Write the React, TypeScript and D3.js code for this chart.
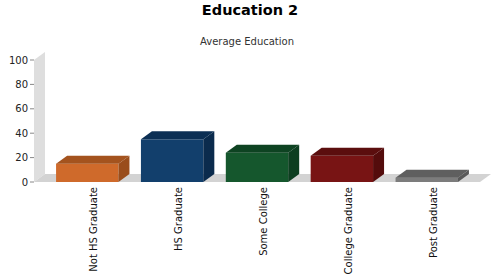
import React from "react";
import * as d3 from "d3";

const categories = ["Not HS Graduate", "HS Graduate", "Some College", "College Graduate", "Post Graduate"];
const values = [15, 35, 24, 21.5, 3.5];
const yTicks = [0, 20, 40, 60, 80, 100];
const frontColors = ["#cf6a2b", "#123f6c", "#15572d", "#781414", "#7c7c7c"];
const topColors = ["#a4531e", "#0c2f54", "#0e4322", "#5b0e0e", "#5f5f5f"];
const sideColors = ["#9a4d1b", "#0b2b4d", "#0d3e20", "#540c0c", "#595959"];

const W = 500;
const H = 280;
const DX = 11;
const DY = 8;
const FONT = "'DejaVu Sans', sans-serif";

export default function App() {
  const x = d3.scaleBand<string>().domain(categories).range([34, 480]).paddingInner(0.265).paddingOuter(0.26);
  const y = d3.scaleLinear().domain([0, 100]).range([182, 60]);
  const y0 = y(0);
  const pts = (p: [number, number][]) => p.map((q) => q.join(",")).join(" ");

  return (
    <svg width={W} height={H} style={{ position: "absolute", left: 0, top: 0, background: "#fff" }}>
      <text x={250} y={15} textAnchor="middle" fontFamily={FONT} fontWeight="bold" fontSize={14.5} fill="#000">
        Education 2
      </text>
      <text x={247} y={45} textAnchor="middle" fontFamily={FONT} fontSize={10} fill="#333">
        Average Education
      </text>

      {/* back wall */}
      <polygon
        points={pts([[34, y(100)], [34 + DX, y(100) - DY], [34 + DX, y0 - DY], [34, y0]])}
        fill="#dedede"
      />
      {/* floor */}
      <polygon
        points={pts([[34, y0], [34 + DX, y0 - DY], [480 + DX, y0 - DY], [480, y0]])}
        fill="#d3d3d3"
      />

      {yTicks.map((t) => (
        <g key={t}>
          <line x1={30} x2={34} y1={y(t)} y2={y(t)} stroke="#888" />
          <text x={28} y={y(t)} dy="0.35em" textAnchor="end" fontFamily={FONT} fontSize={10} fill="#222">
            {t}
          </text>
        </g>
      ))}

      {categories.map((c, i) => {
        const x0 = x(c)!;
        const x1 = x0 + x.bandwidth();
        const yt = y(values[i]);
        return (
          <g key={c}>
            <rect x={x0} y={yt} width={x1 - x0} height={y0 - yt} fill={frontColors[i]} />
            <polygon points={pts([[x0, yt], [x0 + DX, yt - DY], [x1 + DX, yt - DY], [x1, yt]])} fill={topColors[i]} />
            <polygon points={pts([[x1, yt], [x1 + DX, yt - DY], [x1 + DX, y0 - DY], [x1, y0]])} fill={sideColors[i]} />
          </g>
        );
      })}

      {categories.map((c) => {
        const cx = x(c)! + x.bandwidth() / 2 + 6.5;
        return (
          <text
            key={c}
            transform={`translate(${cx},187) rotate(-90)`}
            textAnchor="end"
            dy="0.35em"
            fontFamily={FONT}
            fontSize={10}
            fill="#111"
          >
            {c}
          </text>
        );
      })}
    </svg>
  );
}
